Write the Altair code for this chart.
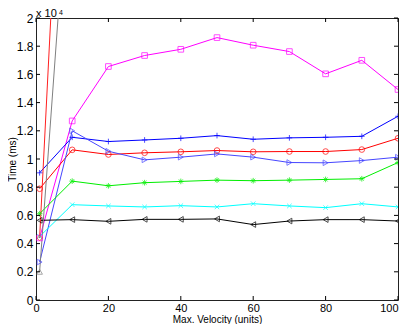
import altair as alt
import pandas as pd

x_vals = [1, 10, 20, 30, 40, 50, 60, 70, 80, 90, 100]

magenta_sq = [0.44, 1.27, 1.656, 1.734, 1.778, 1.861, 1.807, 1.762, 1.604, 1.70, 1.493]
blue_plus = [0.902, 1.154, 1.124, 1.135, 1.147, 1.166, 1.14, 1.15, 1.154, 1.161, 1.303]
red_circ = [0.789, 1.065, 1.032, 1.044, 1.051, 1.06, 1.051, 1.053, 1.053, 1.067, 1.147]
blue_tri = [0.269, 1.20, 1.055, 0.994, 1.013, 1.036, 1.013, 0.975, 0.973, 0.989, 1.013]
green_star = [0.612, 0.843, 0.81, 0.832, 0.841, 0.85, 0.846, 0.85, 0.855, 0.86, 0.975]
cyan_x = [0.45, 0.676, 0.667, 0.66, 0.669, 0.66, 0.683, 0.667, 0.655, 0.683, 0.66]
black_tri = [0.565, 0.57, 0.558, 0.572, 0.572, 0.575, 0.535, 0.56, 0.57, 0.57, 0.56]
# steep series leaving the plot
steep_x = [1, 10]
red_steep = [0.44, 5.0]
gray_steep = [0.2, 3.38]

series_names = ["s1", "s2", "s3", "s4", "s5", "s6", "s7", "s8", "s9"]
series_colors = ["#ff00ff", "#0000ff", "#ff0000", "#4646ff", "#00ee00", "#00ffff", "#000000", "#ff2020", "#808080"]
series_shapes = [
    "square",
    "M-1,0H1M0,-1V1",
    "circle",
    "triangle-right",
    "M-1,0H1M0,-1V1M-0.7,-0.7L0.7,0.7M-0.7,0.7L0.7,-0.7",
    "M-0.8,-0.8L0.8,0.8M-0.8,0.8L0.8,-0.8",
    "triangle-left",
    "diamond",
    "triangle-up",
]

rows = []
for name, ys in zip(series_names[:7], [magenta_sq, blue_plus, red_circ, blue_tri, green_star, cyan_x, black_tri]):
    for xv, yv in zip(x_vals, ys):
        rows.append({"x": xv, "y": yv, "s": name})
for name, ys in zip(series_names[7:], [red_steep, gray_steep]):
    for xv, yv in zip(steep_x, ys):
        rows.append({"x": xv, "y": yv, "s": name})
df = pd.DataFrame(rows)

x_ticks = [0, 20, 40, 60, 80, 100]
y_ticks = [0, 0.2, 0.4, 0.6, 0.8, 1.0, 1.2, 1.4, 1.6, 1.8, 2.0]

W, H = 362, 282
FONT = "Liberation Sans"

xs = alt.Scale(domain=[0, 100], nice=False)
ys = alt.Scale(domain=[0, 2], nice=False)

x_axis = alt.Axis(
    values=x_ticks, title="Max. Velocity (units)", ticks=False, domain=False, grid=False,
    labelPadding=2, labelOverlap=False, labelFontSize=11,
    titleY=22, titleBaseline="alphabetic", titleFontSize=10,
    labelAlign={"condition": {"test": "datum.value >= 100", "value": "right"}, "value": "center"})
y_axis = alt.Axis(
    values=y_ticks, format=".1~f", title="Time (ms)", ticks=False, domain=False, grid=False,
    labelPadding=3, labelOverlap=False, labelFontSize=12, titleX=-19, titleFontSize=10)

color = alt.Color("s:N", scale=alt.Scale(domain=series_names, range=series_colors), legend=None)
shape = alt.Shape("s:N", scale=alt.Scale(domain=series_names, range=series_shapes), legend=None)

base = alt.Chart(df)
lines = base.mark_line(clip=True, strokeWidth=1).encode(
    x=alt.X("x:Q", scale=xs, axis=x_axis),
    y=alt.Y("y:Q", scale=ys, axis=y_axis),
    color=color,
    detail="s:N",
)
points = base.mark_point(clip=True, filled=False, size=32, strokeWidth=1).encode(
    x=alt.X("x:Q", scale=xs, axis=x_axis),
    y=alt.Y("y:Q", scale=ys, axis=y_axis),
    color=color, shape=shape,
)

xt = pd.DataFrame({"x": x_ticks})
yt = pd.DataFrame({"y": y_ticks})
tick_bot = alt.Chart(xt).mark_rule(color="black", strokeWidth=1).encode(
    x=alt.X("x:Q", scale=xs, axis=x_axis), y=alt.value(H), y2=alt.value(H - 4))
tick_top = alt.Chart(xt).mark_rule(color="black", strokeWidth=1).encode(
    x=alt.X("x:Q", scale=xs, axis=x_axis), y=alt.value(0), y2=alt.value(4))
tick_left = alt.Chart(yt).mark_rule(color="black", strokeWidth=1).encode(
    y=alt.Y("y:Q", scale=ys, axis=y_axis), x=alt.value(0), x2=alt.value(4))
tick_right = alt.Chart(yt).mark_rule(color="black", strokeWidth=1).encode(
    y=alt.Y("y:Q", scale=ys, axis=y_axis), x=alt.value(W), x2=alt.value(W - 4))

exp_base = alt.Chart(pd.DataFrame({"t": ["x 10"]})).mark_text(
    align="left", baseline="alphabetic", fontSize=11, font=FONT, color="black").encode(
    x=alt.value(0), y=alt.value(-1), text="t:N")
exp_pow = alt.Chart(pd.DataFrame({"t": ["4"]})).mark_text(
    align="left", baseline="alphabetic", fontSize=7, font=FONT, color="black").encode(
    x=alt.value(23), y=alt.value(-3), text="t:N")

chart = alt.layer(lines, points, tick_bot, tick_top, tick_left, tick_right, exp_base, exp_pow).properties(
    width=W, height=H,
    autosize=alt.AutoSizeParams(type="none"),
    padding={"left": 28, "top": 10, "right": 1, "bottom": 24},
).configure_view(stroke="#222222", strokeWidth=1).configure_axis(
    labelFont=FONT, titleFont=FONT,
    titleFontWeight="normal", labelColor="black", titleColor="black",
)

chart.save("out.html", embed_options={"renderer": "svg", "actions": False})
